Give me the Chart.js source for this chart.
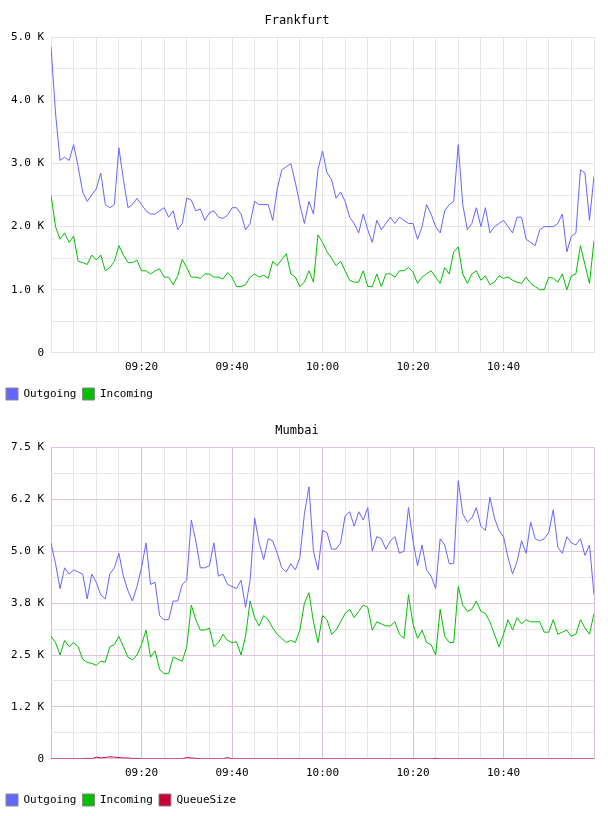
<!DOCTYPE html>
<html><head><meta charset="utf-8">
<script src="https://cdn.jsdelivr.net/npm/chart.js@4"></script>
<style>
body{margin:0;background:#fff;}
.box{position:absolute;left:0;width:608px;}
</style></head><body>
<div class="box" style="top:0;height:410px"><canvas id="c1"></canvas></div>
<div class="box" style="top:410px;height:406px"><canvas id="c2"></canvas></div>
<script>
// minutes after 09:00, one point per minute
var fraOut = [4.85,3.8,3.05,3.1,3.05,3.3,2.95,2.55,2.4,2.5,
  2.6,2.85,2.35,2.3,2.35,3.25,2.75,2.3,2.35,2.45,
  2.35,2.25,2.2,2.2,2.25,2.3,2.15,2.25,1.95,2.05,
  2.45,2.42,2.25,2.28,2.1,2.22,2.25,2.15,2.13,2.18,
  2.3,2.3,2.2,1.95,2.05,2.4,2.35,2.35,2.35,2.1,
  2.6,2.9,2.95,3.0,2.7,2.35,2.05,2.4,2.2,2.9,
  3.2,2.85,2.75,2.45,2.55,2.4,2.15,2.05,1.9,2.2,
  1.95,1.75,2.1,1.95,2.05,2.15,2.05,2.15,2.1,2.05,
  2.05,1.8,2.0,2.35,2.2,2.0,1.9,2.25,2.35,2.4,
  3.3,2.35,1.95,2.05,2.3,2.0,2.3,1.9,2.0,2.05,
  2.1,2.0,1.9,2.15,2.15,1.8,1.75,1.7,1.95,2.0,
  2.0,2.0,2.05,2.2,1.6,1.85,1.9,2.9,2.85,2.1,2.8];
var fraIn = [2.5,2.0,1.8,1.9,1.75,1.85,1.45,1.43,1.4,1.55,
  1.47,1.55,1.3,1.35,1.45,1.7,1.55,1.43,1.43,1.47,
  1.3,1.3,1.25,1.3,1.33,1.2,1.2,1.08,1.22,1.48,
  1.35,1.2,1.2,1.18,1.25,1.25,1.2,1.2,1.17,1.27,
  1.2,1.05,1.05,1.08,1.2,1.25,1.2,1.23,1.18,1.45,
  1.38,1.48,1.57,1.25,1.2,1.05,1.12,1.3,1.12,1.87,
  1.75,1.6,1.5,1.38,1.45,1.3,1.15,1.12,1.12,1.3,
  1.05,1.05,1.25,1.05,1.25,1.25,1.2,1.3,1.3,1.35,
  1.28,1.1,1.2,1.25,1.3,1.2,1.1,1.35,1.25,1.6,
  1.68,1.25,1.1,1.25,1.3,1.15,1.22,1.08,1.12,1.22,
  1.18,1.2,1.15,1.12,1.1,1.2,1.1,1.05,1.0,1.0,
  1.2,1.18,1.12,1.25,1.0,1.22,1.25,1.7,1.4,1.1,1.78];
var mumOut = [5.2,4.7,4.1,4.6,4.45,4.55,4.5,4.45,3.85,4.45,
  4.25,3.95,3.85,4.45,4.6,4.95,4.4,4.05,3.8,4.15,
  4.6,5.2,4.2,4.25,3.45,3.35,3.35,3.8,3.8,4.2,
  4.3,5.75,5.25,4.6,4.6,4.65,5.2,4.4,4.45,4.2,
  4.15,4.1,4.3,3.65,4.3,5.8,5.2,4.8,5.3,5.25,
  4.95,4.6,4.5,4.7,4.55,4.85,5.9,6.55,5.0,4.55,
  5.5,5.45,5.05,5.05,5.2,5.85,5.95,5.6,5.95,5.75,
  6.05,5.0,5.35,5.3,5.05,5.25,5.35,4.95,5.0,6.05,
  5.25,4.65,5.15,4.55,4.4,4.1,5.3,5.15,4.7,4.7,
  6.7,5.9,5.7,5.8,6.05,5.6,5.5,6.3,5.8,5.5,
  5.35,4.85,4.45,4.75,5.25,4.95,5.7,5.3,5.25,5.3,
  5.45,6.0,5.1,4.95,5.35,5.2,5.15,5.3,4.9,5.15,3.95];
var mumIn = [2.95,2.8,2.5,2.85,2.7,2.8,2.7,2.4,2.32,2.3,
  2.25,2.35,2.33,2.7,2.75,2.95,2.7,2.45,2.38,2.5,
  2.75,3.1,2.45,2.6,2.15,2.05,2.05,2.45,2.4,2.35,
  2.7,3.7,3.35,3.1,3.1,3.15,2.7,2.8,3.0,2.85,
  2.8,2.82,2.5,2.95,3.8,3.4,3.2,3.45,3.35,3.15,
  3.0,2.9,2.8,2.85,2.8,3.1,3.75,4.0,3.3,2.8,
  3.45,3.35,3.0,3.1,3.3,3.5,3.6,3.4,3.55,3.7,
  3.65,3.1,3.3,3.25,3.2,3.2,3.3,3.0,2.9,3.95,
  3.25,2.9,3.1,2.8,2.75,2.5,3.6,2.95,2.8,2.8,
  4.15,3.7,3.55,3.6,3.8,3.55,3.5,3.3,3.0,2.7,
  3.0,3.35,3.1,3.4,3.25,3.35,3.3,3.3,3.3,3.05,
  3.05,3.35,3.0,3.05,3.1,2.95,3.0,3.35,3.15,3.0,3.5];
var mumQueue = [0,0,0,0,0,0,0,0,0.01,0,
  0.04,0.02,0.03,0.05,0.04,0.03,0.02,0.02,0.01,0.01,
  0,0,0,0,0,0,0,0,0,0,
  0.03,0.02,0.01,0,0,0,0,0,0,0.03,
  0,0,0,0,0,0,0,0,0,0,
  0,0,0,0,0,0,0,0,0,0,
  0,0,0,0,0,0,0,0,0,0,
  0,0,0,0,0,0,0,0,0,0,
  0,0,0,0,0,0.01,0,0,0,0,
  0,0,0,0,0,0,0,0,0,0,
  0,0,0,0,0,0,0,0,0,0,
  0,0,0,0,0,0,0,0,0,0,0];
var timeLabels = {20:'09:20',40:'09:40',60:'10:00',80:'10:20',100:'10:40'};
var fraYLabels = {0:'0',1000:'1.0 K',2000:'2.0 K',3000:'3.0 K',4000:'4.0 K',5000:'5.0 K'};
var mumYLabels = {0:'0',1250:'1.2 K',2500:'2.5 K',3750:'3.8 K',5000:'5.0 K',6250:'6.2 K',7500:'7.5 K'};

var FONT = {family:'DejaVu Sans Mono', size:11};
Chart.defaults.font = FONT;
Chart.defaults.color = '#000';

function pts(arr) {
  return arr.map(function(v, i) { return {x: i, y: v * 1000}; });
}
function ds(label, arr, color) {
  return {label: label, data: pts(arr), borderColor: color, backgroundColor: color,
    borderWidth: 1, pointRadius: 0, tension: 0};
}

// push the legend to the right a little
var legendShift = {
  id: 'legendShift',
  afterUpdate: function(chart) {
    if (chart.legend && chart.legend.legendHitBoxes) {
      chart.legend.legendHitBoxes.forEach(function(h) { h.left += 14; });
    }
  }
};

function makeChart(id, title, sets, yMax, yStep, yLabels, major, minor, xMajor) {
  new Chart(document.getElementById(id), {
    type: 'line',
    data: {datasets: sets},
    plugins: [legendShift],
    options: {
      responsive: true, maintainAspectRatio: false, animation: false,
      layout: {padding: {left: 0, right: 14, top: 0, bottom: 0}},
      plugins: {
        title: {display: true, text: title, font: {family: 'DejaVu Sans Mono', size: 12, weight: 'normal'},
          padding: {top: 14, bottom: 9}},
        legend: {position: 'bottom', align: 'start',
          labels: {boxWidth: 12, boxHeight: 12, padding: 6,
            generateLabels: function(chart) {
              return chart.data.datasets.map(function(d, i) {
                return {text: d.label, fillStyle: d.borderColor, strokeStyle: '#888', lineWidth: 1, datasetIndex: i};
              });
            }}},
        tooltip: {enabled: false}
      },
      scales: {
        x: {type: 'linear', min: 0, max: 120,
          border: {display: false},
          grid: {color: function(c) { return c.tick.value % 20 === 0 ? xMajor : minor; }, drawTicks: false},
          ticks: {stepSize: 5, autoSkip: false, maxRotation: 0, padding: 8,
            callback: function(v) { return timeLabels[v] || ''; }}},
        y: {min: 0, max: yMax,
          border: {display: false},
          afterFit: function(s) { s.width = 51; },
          grid: {color: function(c) { return yLabels[c.tick.value] !== undefined ? major : minor; }, drawTicks: false},
          ticks: {stepSize: yStep, autoSkip: false, padding: 7,
            callback: function(v) { return yLabels[v] !== undefined ? yLabels[v] : ''; }}}
      }
    }
  });
}

makeChart('c1', 'Frankfurt',
  [ds('Outgoing', fraOut, '#6666ff'), ds('Incoming', fraIn, '#00c000')],
  5000, 500, fraYLabels, '#e4e4e4', '#e8e8e8', '#e4e4e4');
makeChart('c2', 'Mumbai',
  [ds('Outgoing', mumOut, '#6666ff'), ds('Incoming', mumIn, '#00c000'), ds('QueueSize', mumQueue, '#cc0033')],
  7500, 625, mumYLabels, '#e0c4e0', '#ebe4eb', '#d8bcd8');
</script>
</body></html>
